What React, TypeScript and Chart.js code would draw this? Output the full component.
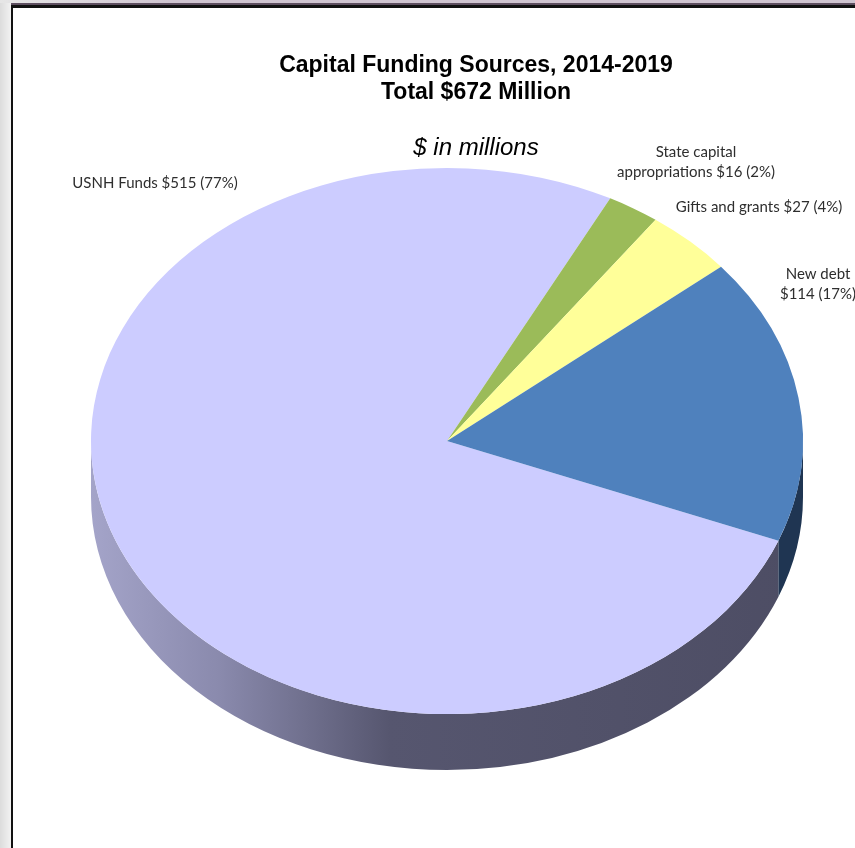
import React, { useEffect, useRef } from "react";
import { Chart, registerables } from "chart.js";

Chart.register(...registerables);

const categories = [
  "USNH Funds",
  "State capital appropriations",
  "Gifts and grants",
  "New debt",
];
const values = [515, 16, 27, 114];
const percents = [77, 2, 4, 17];
const titleLines = ["Capital Funding Sources, 2014-2019", "Total $672 Million"];
const subtitle = "$ in millions";

// styles / layout (not data)
const topColors = ["#ccccff", "#9bbb59", "#ffff99", "#4f81bd"];
const labelLines = [
  ["USNH Funds $515 (77%)"],
  ["State capital", "appropriations $16 (2%)"],
  ["Gifts and grants $27 (4%)"],
  ["New debt", "$114 (17%)"],
];
const labelAnchors = [
  { x: 155, y: 183 },
  { x: 696, y: 152 },
  { x: 759, y: 207 },
  { x: 818, y: 274 },
];

const W = 855;
const H = 848;
const CY = 441;
const RATIO = 0.767;
const DEPTH = 56;

export default function App() {
  const ref = useRef<HTMLCanvasElement | null>(null);

  useEffect(() => {
    if (!ref.current) return;
    const depthPlugin = {
      id: "depth3d",
      beforeDatasetsDraw(chart: any) {
        const ctx = chart.ctx as CanvasRenderingContext2D;
        const meta = chart.getDatasetMeta(0);
        meta.data.forEach((arc: any, i: number) => {
          const { x, startAngle, endAngle, outerRadius } = arc.getProps(
            ["x", "startAngle", "endAngle", "outerRadius"],
            true
          );
          const ry = outerRadius * RATIO;
          for (let k = -1; k <= 2; k++) {
            const lo = Math.max(startAngle, k * 2 * Math.PI);
            const hi = Math.min(endAngle, k * 2 * Math.PI + Math.PI);
            if (hi <= lo) continue;
            ctx.save();
            ctx.beginPath();
            ctx.ellipse(x, CY, outerRadius, ry, 0, lo, hi, false);
            ctx.ellipse(x, CY + DEPTH, outerRadius, ry, 0, hi, lo, true);
            ctx.closePath();
            if (i === 0) {
              const g = ctx.createLinearGradient(x - outerRadius, 0, x + outerRadius, 0);
              g.addColorStop(0, "#a4a4c9");
              g.addColorStop(0.18, "#8a8aad");
              g.addColorStop(0.42, "#56566f");
              g.addColorStop(1, "#4d4d64");
              ctx.fillStyle = g;
            } else if (i === 3) {
              ctx.fillStyle = "#1f3552";
            } else {
              ctx.fillStyle = "#555";
            }
            ctx.fill();
            ctx.restore();
          }
        });
        const cyC = (chart.chartArea.top + chart.chartArea.bottom) / 2;
        ctx.save();
        ctx.translate(0, CY);
        ctx.scale(1, RATIO);
        ctx.translate(0, -cyC);
      },
      afterDatasetsDraw(chart: any) {
        chart.ctx.restore();
      },
      afterDraw(chart: any) {
        const ctx = chart.ctx as CanvasRenderingContext2D;
        ctx.save();
        ctx.fillStyle = "#000";
        ctx.textAlign = "center";
        ctx.textBaseline = "middle";
        ctx.font = "bold 23px 'Liberation Sans', Arial, sans-serif";
        ctx.fillText(titleLines[0], 476, 66);
        ctx.fillText(titleLines[1], 476, 93);
        ctx.font = "italic 24px 'Liberation Sans', Arial, sans-serif";
        ctx.fillText(subtitle, 476, 148);
        ctx.fillStyle = "#2e2e2e";
        ctx.font = "15px Lato, 'Noto Sans', sans-serif";
        labelLines.forEach((lines, i) => {
          lines.forEach((t, j) => {
            ctx.fillText(t, labelAnchors[i].x, labelAnchors[i].y + j * 20);
          });
        });
        ctx.restore();
      },
    };

    const chart = new Chart(ref.current, {
      type: "pie",
      data: {
        labels: categories,
        datasets: [
          {
            data: values,
            backgroundColor: topColors,
            borderWidth: 0,
          },
        ],
      },
      options: {
        responsive: false,
        animation: false,
        rotation: 111.4,
        layout: { padding: { left: 91, right: 52, top: 68, bottom: 68 } },
        plugins: {
          legend: { display: false },
          tooltip: { enabled: false },
          title: { display: false },
        },
      },
      plugins: [depthPlugin],
    });
    return () => chart.destroy();
  }, []);

  return (
    <div
      style={{
        position: "absolute",
        left: 0,
        top: 0,
        width: W,
        height: H,
        background: "#fff",
        overflow: "hidden",
      }}
    >
      <div
        style={{
          position: "absolute",
          left: 0,
          top: 0,
          width: 11,
          height: H,
          background: "linear-gradient(to right, #dcdcdc, #f2f2f2)",
        }}
      />
      <div
        style={{
          position: "absolute",
          left: 0,
          top: 0,
          width: W,
          height: 3,
          background: "linear-gradient(to right, #e6e6e6, #cfc4d0 20%, #cfc4d0)",
        }}
      />
      <div
        style={{
          position: "absolute",
          left: 11,
          top: 3,
          width: W - 11,
          height: 2,
          background: "#5e4f60",
        }}
      />
      <div
        style={{
          position: "absolute",
          left: 11,
          top: 5,
          width: W - 11,
          height: 3,
          background: "#111",
        }}
      />
      <div
        style={{
          position: "absolute",
          left: 11,
          top: 5,
          width: 2,
          height: H - 5,
          background: "#111",
        }}
      />
      <canvas
        ref={ref}
        width={W}
        height={H}
        style={{ position: "absolute", left: 0, top: 0, width: W, height: H }}
      />
    </div>
  );
}
